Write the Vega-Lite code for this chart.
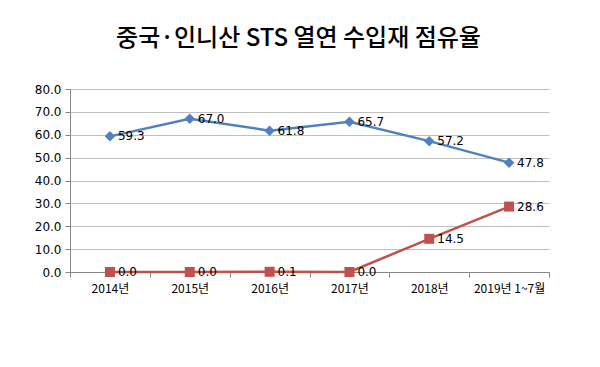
{
  "$schema": "https://vega.github.io/schema/vega-lite/v6.json",
  "autosize": {"type": "none"},
  "width": 479,
  "height": 183,
  "padding": {"left": 70, "top": 89, "right": 51, "bottom": 95},
  "background": "white",
  "title": {
    "text": "중국·인니산 STS 열연 수입재 점유율",
    "font": "Noto Sans CJK KR",
    "fontSize": 24,
    "fontWeight": 500,
    "color": "#000000",
    "anchor": "middle",
    "offset": 32,
    "dx": -11
  },
  "data": {
    "values": [
      {"year": "2014년", "series": "중국", "value": 59.3},
      {"year": "2015년", "series": "중국", "value": 67.0},
      {"year": "2016년", "series": "중국", "value": 61.8},
      {"year": "2017년", "series": "중국", "value": 65.7},
      {"year": "2018년", "series": "중국", "value": 57.2},
      {"year": "2019년 1~7월", "series": "중국", "value": 47.8},
      {"year": "2014년", "series": "인니", "value": 0.0},
      {"year": "2015년", "series": "인니", "value": 0.0},
      {"year": "2016년", "series": "인니", "value": 0.1},
      {"year": "2017년", "series": "인니", "value": 0.0},
      {"year": "2018년", "series": "인니", "value": 14.5},
      {"year": "2019년 1~7월", "series": "인니", "value": 28.6}
    ]
  },
  "encoding": {
    "x": {
      "field": "year",
      "type": "ordinal",
      "sort": null,
      "scale": {"type": "band", "paddingInner": 0, "paddingOuter": 0},
      "axis": {
        "title": null,
        "labelAngle": 0,
        "tickBand": "extent",
        "labelFont": "Noto Sans CJK KR",
        "labelFontSize": 12,
        "labelColor": "#000000",
        "labelPadding": 6,
        "tickColor": "#868686",
        "domainColor": "#868686",
        "tickSize": 5,
        "grid": false
      }
    },
    "y": {
      "field": "value",
      "type": "quantitative",
      "scale": {"domain": [0, 80], "nice": false, "zero": true},
      "axis": {
        "title": null,
        "values": [0, 10, 20, 30, 40, 50, 60, 70, 80],
        "format": ".1f",
        "labelFont": "DejaVu Sans",
        "labelFontSize": 12,
        "labelColor": "#000000",
        "labelPadding": 4,
        "tickColor": "#868686",
        "tickSize": 5,
        "domainColor": "#868686",
        "gridColor": "#bfbfbf",
        "gridWidth": 1
      }
    },
    "color": {
      "field": "series",
      "type": "nominal",
      "scale": {"domain": ["중국", "인니"], "range": ["#4F81BD", "#C0504D"]},
      "legend": null
    }
  },
  "layer": [
    {
      "mark": {"type": "line", "strokeWidth": 2.5},
      "encoding": {"detail": {"field": "series"}}
    },
    {
      "mark": {"type": "point", "filled": true, "opacity": 1},
      "encoding": {
        "shape": {
          "field": "series",
          "type": "nominal",
          "scale": {"domain": ["중국", "인니"], "range": ["diamond", "square"]},
          "legend": null
        },
        "size": {
          "field": "series",
          "type": "nominal",
          "scale": {"domain": ["중국", "인니"], "range": [110, 100]},
          "legend": null
        }
      }
    },
    {
      "mark": {"type": "text", "align": "left", "baseline": "middle", "dx": 8, "font": "DejaVu Sans", "fontSize": 12, "color": "#000000"},
      "encoding": {
        "text": {"field": "value", "type": "quantitative", "format": ".1f"},
        "color": {"value": "#000000"}
      }
    }
  ],
  "config": {
    "view": {"stroke": null}
  }
}
